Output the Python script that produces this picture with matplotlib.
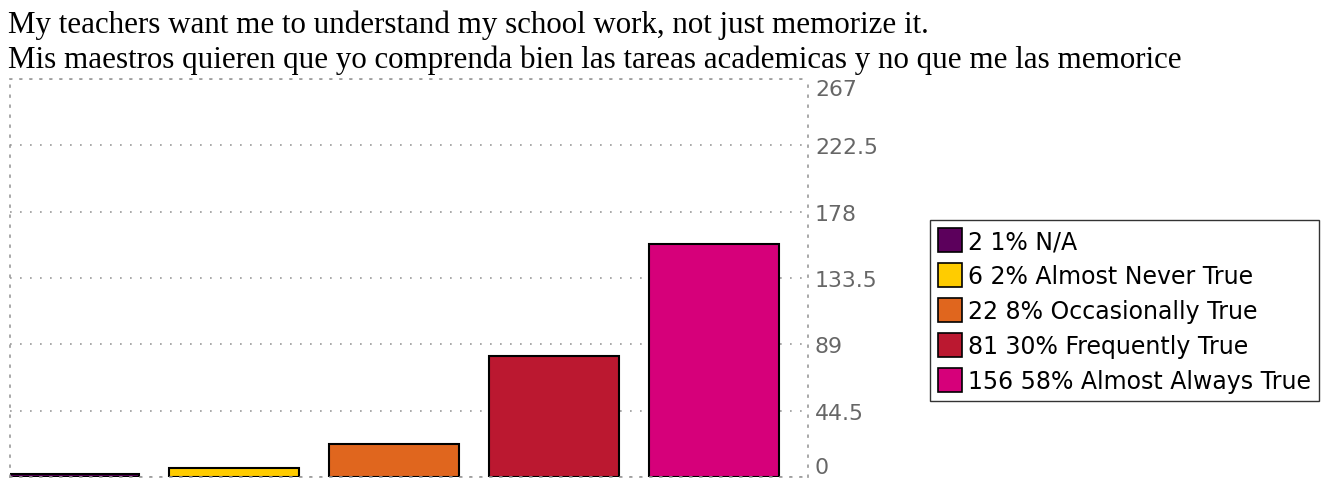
import matplotlib
matplotlib.use("Agg")
import matplotlib.pyplot as plt
from matplotlib.patches import Patch

title_en = "My teachers want me to understand my school work, not just memorize it."
title_es = "Mis maestros quieren que yo comprenda bien las tareas academicas y no que me las memorice"

categories = ["N/A", "Almost Never True", "Occasionally True", "Frequently True", "Almost Always True"]
counts = [2, 6, 22, 81, 156]
percents = [1, 2, 8, 30, 58]
colors = ["#5c005c", "#ffcc00", "#e0661e", "#bb1830", "#d6007a"]
yticks = [0, 44.5, 89, 133.5, 178, 222.5, 267]
ytick_labels = ["0", "44.5", "89", "133.5", "178", "222.5", "267"]

W, H = 1331, 481
fig = plt.figure(figsize=(W / 100, H / 100), dpi=100)

# plot area in pixels
left, right, top, bottom = 10, 808, 80, 478
ax = fig.add_axes([left / W, (H - bottom) / H, (right - left) / W, (bottom - top) / H])

x = range(len(counts))
ax.bar(x, counts, width=130 / 160, align="edge", color=colors, edgecolor="black", linewidth=1.5)

x0 = 1 / 160
ax.set_xlim(x0, x0 + (right - left) / 160)
ax.set_ylim(0, 267)
ax.set_xticks([])
ax.set_yticks(yticks)
ax.set_yticklabels(ytick_labels)
ax.yaxis.tick_right()
ax.tick_params(axis="y", length=0, pad=5, labelsize=15.8, labelcolor="#666666")
for lab in ax.get_yticklabels():
    lab.set_family("DejaVu Sans")
labs = ax.get_yticklabels()
labs[0].set_va("bottom")
labs[-1].set_va("top")

ax.grid(axis="y", color="#999999", linestyle=(0, (1, 5)), linewidth=1.2)
ax.set_axisbelow(True)
for sp in ax.spines.values():
    sp.set_color("#999999")
    sp.set_linestyle((0, (1, 5)))
    sp.set_linewidth(1.2)

handles = [Patch(facecolor=c, edgecolor="black", linewidth=1.2) for c in colors]
labels = [f"{n} {p}% {c}" for n, p, c in zip(counts, percents, categories)]
leg = fig.legend(handles, labels, loc="upper left", bbox_to_anchor=(930 / W, 1 - 221 / H),
                 prop={"family": "DejaVu Sans", "size": 17}, frameon=True, fancybox=False,
                 edgecolor="black", handlelength=1.0, handleheight=1.2, handletextpad=0.25,
                 labelspacing=0.42, borderpad=0.34, borderaxespad=0)
leg.get_frame().set_linewidth(1.0)

fig.text(8 / W, 1 - 33 / H, title_en, family="Liberation Serif", fontsize=22.3, va="baseline", ha="left")
fig.text(8 / W, 1 - 68 / H, title_es, family="Liberation Serif", fontsize=22.3, va="baseline", ha="left")

fig.savefig("out.png", dpi=100)
